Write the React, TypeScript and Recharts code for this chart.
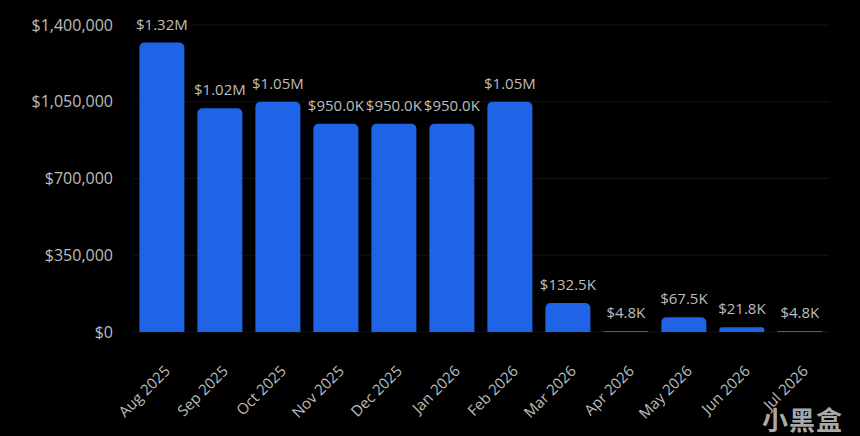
import React from 'react';
import { BarChart, Bar, XAxis, YAxis, CartesianGrid, LabelList } from 'recharts';

const months = ['Aug 2025', 'Sep 2025', 'Oct 2025', 'Nov 2025', 'Dec 2025', 'Jan 2026', 'Feb 2026', 'Mar 2026', 'Apr 2026', 'May 2026', 'Jun 2026', 'Jul 2026'];
const revenue = [1320000, 1020000, 1050000, 950000, 950000, 950000, 1050000, 132500, 4800, 67500, 21800, 4800];
const yTicks = [0, 350000, 700000, 1050000, 1400000];

const data = months.map((m, i) => ({ month: m, value: revenue[i] }));

const FONT = '"Open Sans", "Noto Sans", sans-serif';
const TEXT = '#bdbdbd';

const fmtLabel = (v: number) => (v >= 1000000 ? `$${(v / 1000000).toFixed(2)}M` : `$${(v / 1000).toFixed(1)}K`);
const fmtTick = (v: number) => `$${v.toLocaleString('en-US')}`;

const XTick = (props: any) => {
  const { x, y, payload } = props;
  const ax = x + 9;
  const ay = y + 32;
  return (
    <text
      x={ax}
      y={ay}
      textAnchor="end"
      fill={TEXT}
      fontSize={15}
      fontFamily={FONT}
      transform={`rotate(-45, ${ax}, ${ay})`}
    >
      {payload.value}
    </text>
  );
};

export default function App() {
  return (
    <div style={{ position: 'absolute', left: 0, top: 0, width: 860, height: 436, background: '#000', overflow: 'hidden' }}>
      <BarChart
        width={860}
        height={436}
        data={data}
        margin={{ top: 25, right: 31, bottom: 0, left: 0 }}
        barCategoryGap="11%"
      >
        <CartesianGrid vertical={false} stroke="#121212" strokeWidth={1} />
        <XAxis
          dataKey="month"
          axisLine={false}
          tickLine={false}
          interval={0}
          tick={<XTick />}
          height={104}
        />
        <YAxis
          width={133}
          domain={[0, 1400000]}
          ticks={yTicks}
          tickFormatter={fmtTick}
          axisLine={false}
          tickLine={false}
          tickMargin={14}
          tick={{ fill: TEXT, fontSize: 16, fontFamily: FONT }}
        />
        <Bar dataKey="value" fill="#1f63e6" radius={[5, 5, 0, 0]} isAnimationActive={false}>
          <LabelList
            dataKey="value"
            position="top"
            offset={13}
            formatter={(v: any) => fmtLabel(Number(v))}
            style={{ fill: TEXT, fontSize: 15, fontFamily: FONT }}
          />
        </Bar>
      </BarChart>
      <div
        style={{
          position: 'absolute',
          left: 762,
          top: 400,
          fontFamily: '"Noto Sans CJK SC", sans-serif',
          fontSize: 26,
          fontWeight: 700,
          color: 'rgba(200,200,200,0.85)',
          letterSpacing: 1,
        }}
      >
        小黑盒
      </div>
    </div>
  );
}
